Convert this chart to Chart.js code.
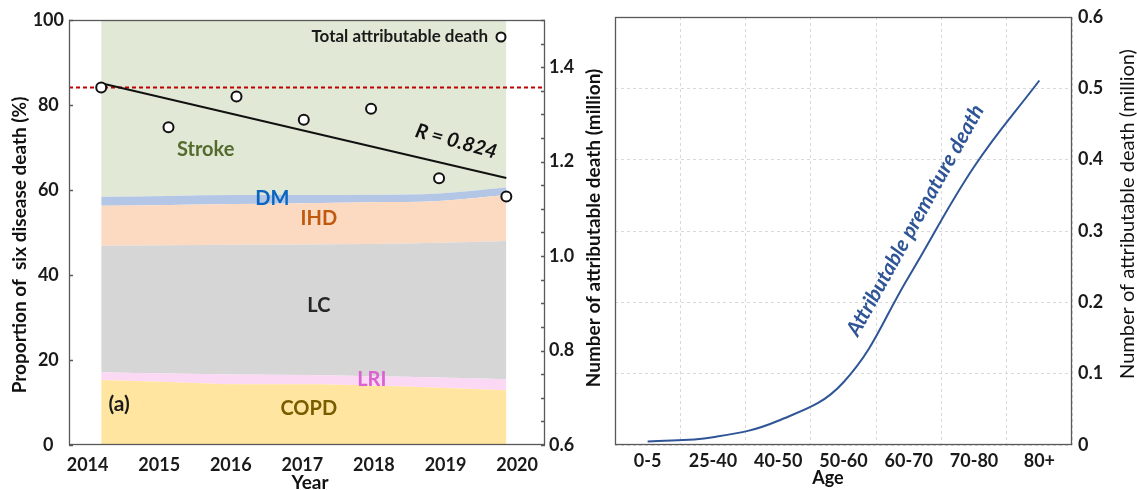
<!DOCTYPE html>
<html>
<head>
<meta charset="utf-8">
<script src="https://cdn.jsdelivr.net/npm/chart.js@4.4.0/dist/chart.umd.min.js"></script>
<style>
  html, body { margin: 0; padding: 0; background: #fff; width: 1137px; height: 490px; overflow: hidden; }
  #wrapA { position: absolute; left: 0; top: 0; width: 605px; height: 490px; }
  #wrapB { position: absolute; left: 605px; top: 0; width: 532px; height: 490px; }
</style>
</head>
<body>
<div id="wrapA"><canvas id="trend" width="605" height="490"></canvas></div>
<div id="wrapB"><canvas id="age" width="532" height="490"></canvas></div>
<script>
// ---- Panel (a): share of six diseases and total attributable death ----
const YEAR_TICKS = [2014, 2015, 2016, 2017, 2018, 2019, 2020];
const YEAR_POS   = [2014.19, 2015.13, 2016.08, 2017.02, 2017.96, 2018.91, 2019.85];
const COPD   = [15.3, 14.8, 14.3, 14.3, 14.0, 13.5, 12.9];
const LRI    = [1.8, 2.0, 2.3, 2.2, 2.2, 2.4, 2.6];
const LC     = [29.8, 30.2, 30.5, 30.7, 31.1, 31.7, 32.5];
const IHD    = [9.4, 9.5, 9.6, 9.7, 9.8, 9.8, 10.8];
const DM     = [2.1, 2.1, 2.1, 1.9, 1.8, 1.8, 1.8];
const STROKE = [41.6, 41.4, 41.2, 41.2, 41.1, 40.8, 39.4];
const TOTAL_DEATH = [1.357, 1.273, 1.338, 1.289, 1.312, 1.165, 1.126]; // million
const SHARE_TICKS = [0, 20, 40, 60, 80, 100];
const DEATH_TICKS = [0.6, 0.8, 1.0, 1.2, 1.4];

// ---- Panel (b): attributable premature death by age group ----
const AGE_GROUPS = ['0-5', '25-40', '40-50', '50-60', '60-70', '70-80', '80+'];
const AGE_DEATH  = [0.005, 0.011, 0.034, 0.088, 0.236, 0.390, 0.511]; // million
const AGE_TICKS  = [0, 0.1, 0.2, 0.3, 0.4, 0.5, 0.6];

const FONT = 'Lato, "Open Sans", sans-serif';
const X_MIN = 2013.74, X_MAX = 2020.39;

Chart.defaults.font.family = FONT;
Chart.defaults.color = '#1a1a1a';

const pts = (arr) => arr.map((v, i) => ({ x: YEAR_POS[i], y: v }));

// least-squares fit of total deaths over time
function fitLine(xs, ys) {
  const n = xs.length;
  const mx = xs.reduce((a, b) => a + b, 0) / n;
  const my = ys.reduce((a, b) => a + b, 0) / n;
  let sxy = 0, sxx = 0;
  for (let i = 0; i < n; i++) { sxy += (xs[i] - mx) * (ys[i] - my); sxx += (xs[i] - mx) ** 2; }
  const b = sxy / sxx, a = my - b * mx;
  return [{ x: xs[0], y: a + b * xs[0] }, { x: xs[n - 1], y: a + b * xs[n - 1] }];
}

function text(ctx, s, x, y, font, color, align = 'center', rot = 0) {
  ctx.save();
  ctx.translate(x, y);
  ctx.rotate(rot);
  ctx.font = font;
  ctx.fillStyle = color;
  ctx.textAlign = align;
  ctx.textBaseline = 'middle';
  ctx.fillText(s, 0, 0);
  ctx.restore();
}

function area(label, data, bg, fill) {
  return {
    label, data: pts(data), yAxisID: 'y', backgroundColor: bg, borderWidth: 0,
    pointRadius: 0, fill, cubicInterpolationMode: 'monotone', order: 10
  };
}

const panelA = {
  id: 'panelA',
  afterDraw(chart) {
    const { ctx, chartArea: ca, scales } = chart;
    const sx = scales.x, sy = scales.y, s2 = scales.y2;
    ctx.save();
    ctx.strokeStyle = '#595959';
    ctx.lineWidth = 1.3;
    ctx.strokeRect(ca.left + 0.5, ca.top + 0.5, ca.right - ca.left - 1, ca.bottom - ca.top - 1);
    ctx.beginPath();
    SHARE_TICKS.forEach(v => { const y = Math.round(sy.getPixelForValue(v)) + 0.5; ctx.moveTo(ca.left, y); ctx.lineTo(ca.left + 4, y); });
    for (let k = 0; k <= 18; k++) {
      const y = Math.round(s2.getPixelForValue(0.6 + k * 0.05)) + 0.5;
      ctx.moveTo(ca.right - 4, y); ctx.lineTo(ca.right, y);
    }
    ctx.stroke();
    ctx.restore();

    const B = 'bold 20px ' + FONT;
    const at = (x, y) => [sx.getPixelForValue(x), sy.getPixelForValue(y)];
    let p;
    p = at(2015.65, 69.6); text(ctx, 'Stroke', p[0], p[1], B, '#546b2e');
    p = at(2016.58, 57.9); text(ctx, 'DM', p[0], p[1], B, '#0a66c0');
    p = at(2017.23, 53.2); text(ctx, 'IHD', p[0], p[1], B, '#c0580f');
    p = at(2017.23, 32.9); text(ctx, 'LC', p[0], p[1], B, '#262626');
    p = at(2017.97, 15.5); text(ctx, 'LRI', p[0], p[1], B, '#dc62d2');
    p = at(2017.09, 8.5);  text(ctx, 'COPD', p[0], p[1], B, '#7a5c00');
    p = at(2014.44, 9.6);  text(ctx, '(a)', p[0], p[1], 'bold 21px ' + FONT, '#1a1a1a');

    // legend entry for the total-death markers
    text(ctx, 'Total attributable death', 488, 37, 'bold 17px ' + FONT, '#1a1a1a', 'right');
    ctx.save();
    ctx.beginPath(); ctx.arc(501, 37, 4.5, 0, Math.PI * 2);
    ctx.fillStyle = '#fff'; ctx.fill(); ctx.lineWidth = 2; ctx.strokeStyle = '#111'; ctx.stroke();
    ctx.restore();

    // fitted-trend label
    text(ctx, 'R = 0.824', sx.getPixelForValue(2019.15), s2.getPixelForValue(1.243),
      'italic bold 20px ' + FONT, '#111', 'center', 15.5 * Math.PI / 180);

    // axis titles
    text(ctx, 'Proportion of  six disease death (%)', 20, 245, 'bold 19px ' + FONT, '#111', 'center', -Math.PI / 2);
    text(ctx, 'Number of attributable death (million)', 594, 228, 'bold 19px ' + FONT, '#111', 'center', -Math.PI / 2);
    text(ctx, 'Year', 310, 483, 'bold 19px ' + FONT, '#111');
  }
};

new Chart(document.getElementById('trend'), {
  type: 'line',
  data: {
    datasets: [
      {
        label: 'Total attributable death', data: pts(TOTAL_DEATH), yAxisID: 'y2', showLine: false,
        pointRadius: 5, pointBorderWidth: 2, pointBackgroundColor: '#fff', pointBorderColor: '#111', order: 0
      },
      {
        label: 'Trend', data: fitLine(YEAR_POS, TOTAL_DEATH), yAxisID: 'y2', borderColor: '#111',
        borderWidth: 2, pointRadius: 0, fill: false, order: 1
      },
      {
        label: '2014 level', data: [{ x: X_MIN, y: TOTAL_DEATH[0] }, { x: X_MAX, y: TOTAL_DEATH[0] }], yAxisID: 'y2',
        borderColor: '#c00000', borderWidth: 2, borderDash: [4, 3], pointRadius: 0, fill: false, order: 2
      },
      area('COPD', COPD, '#ffe59f', 'origin'),
      area('LRI', LRI, '#fbd8f3', '-1'),
      area('LC', LC, '#d6d6d6', '-1'),
      area('IHD', IHD, '#fcdac2', '-1'),
      area('DM', DM, '#b3c6e6', '-1'),
      area('Stroke', STROKE, '#e1e8d5', '-1')
    ]
  },
  options: {
    responsive: false,
    animation: false,
    devicePixelRatio: 1,
    layout: { padding: { top: 20, left: 0, right: 0, bottom: 0 } },
    plugins: { legend: { display: false }, tooltip: { enabled: false } },
    scales: {
      x: {
        type: 'linear', min: X_MIN, max: X_MAX,
        afterBuildTicks: s => { s.ticks = YEAR_TICKS.map(v => ({ value: v })); },
        afterFit: s => { s.height = 45; },
        grid: { display: false, drawTicks: false },
        border: { display: false },
        ticks: { callback: v => String(v), font: { size: 18, weight: 'bold' }, padding: 9, maxRotation: 0, autoSkip: false }
      },
      y: {
        position: 'left', stacked: true, min: 0, max: 100,
        afterBuildTicks: s => { s.ticks = SHARE_TICKS.map(v => ({ value: v })); },
        afterFit: s => { s.width = 69; },
        grid: { display: false, drawTicks: false },
        border: { display: false },
        ticks: { font: { size: 18, weight: 'bold' }, padding: 5, crossAlign: 'center' }
      },
      y2: {
        position: 'right', min: 0.6, max: 1.5,
        afterBuildTicks: s => { s.ticks = DEATH_TICKS.map(v => ({ value: v })); },
        afterFit: s => { s.width = 60; },
        grid: { display: false, drawTicks: false },
        border: { display: false },
        ticks: { callback: v => v.toFixed(1), font: { size: 18, weight: 'bold' }, padding: 4 }
      }
    }
  },
  plugins: [panelA]
});

const panelB = {
  id: 'panelB',
  afterDraw(chart) {
    const { ctx, chartArea: ca, scales } = chart;
    ctx.save();
    ctx.strokeStyle = '#595959';
    ctx.lineWidth = 1.3;
    ctx.strokeRect(ca.left + 0.5, ca.top + 0.5, ca.right - ca.left - 1, ca.bottom - ca.top - 1);
    ctx.restore();

    const x = scales.x.getPixelForValue(4.1), y = scales.y.getPixelForValue(0.315);
    text(ctx, 'Attributable premature death', x, y, 'italic bold 21px ' + FONT, '#2f5597', 'center', -61 * Math.PI / 180);

    text(ctx, 'Number of attributable death (million)', 523, 214, '20px ' + FONT, '#111', 'center', -Math.PI / 2);
    text(ctx, 'Age', 223, 478, 'bold 18px ' + FONT, '#111');
  }
};

new Chart(document.getElementById('age'), {
  type: 'line',
  data: {
    labels: AGE_GROUPS,
    datasets: [{
      label: 'Attributable premature death', data: AGE_DEATH, borderColor: '#2f5597', borderWidth: 2,
      pointRadius: 0, fill: false, tension: 0.4
    }]
  },
  options: {
    responsive: false,
    animation: false,
    devicePixelRatio: 1,
    layout: { padding: { top: 17, left: 10, right: 0, bottom: 0 } },
    plugins: { legend: { display: false }, tooltip: { enabled: false } },
    scales: {
      x: {
        type: 'category', offset: true,
        afterFit: s => { s.height = 45; },
        grid: { display: true, offset: true, drawTicks: false, color: '#d9d9d9', lineWidth: 1 },
        border: { display: false, dash: [3, 3] },
        ticks: { font: { size: 18, weight: 'bold' }, padding: 5, maxRotation: 0, autoSkip: false }
      },
      y: {
        position: 'right', min: 0, max: 0.6,
        afterBuildTicks: s => { s.ticks = AGE_TICKS.map(v => ({ value: v })); },
        afterFit: s => { s.width = 65; },
        grid: { display: true, drawTicks: false, color: '#d9d9d9', lineWidth: 1 },
        border: { display: false, dash: [3, 3] },
        ticks: { callback: v => (v === 0 ? '0' : v.toFixed(1)), font: { size: 18, weight: 'bold' }, padding: 6 }
      }
    }
  },
  plugins: [panelB]
});
</script>
</body>
</html>
